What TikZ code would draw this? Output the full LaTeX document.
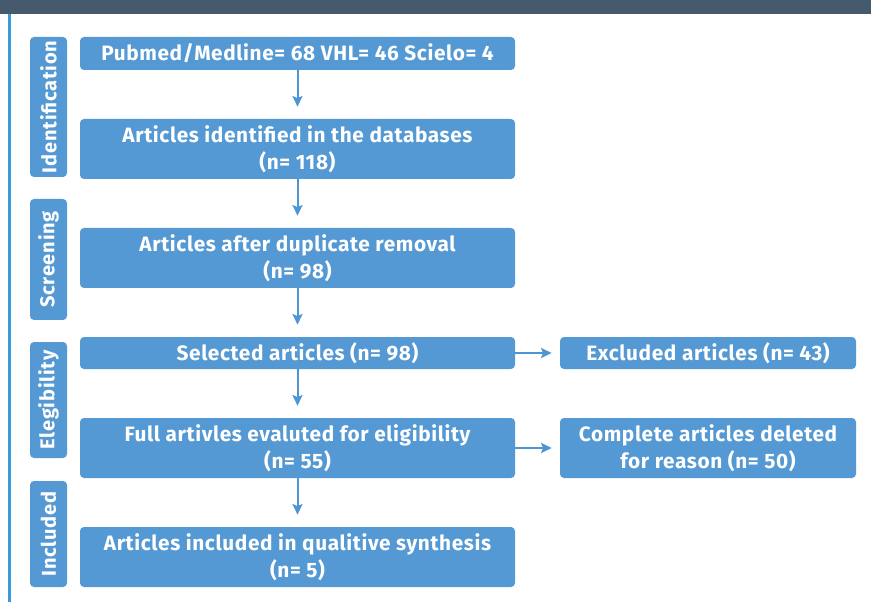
\documentclass[tikz,border=0pt]{standalone}
\usepackage{fontspec}
\setmainfont{Fira Sans}[BoldFont={Fira Sans Bold}]
\usetikzlibrary{arrows.meta}
\definecolor{boxblue}{HTML}{5499D3}
\definecolor{linkblue}{HTML}{4D95D3}
\definecolor{headbar}{HTML}{465A6E}
\definecolor{sideline}{HTML}{3A9BDC}
\begin{document}
\begin{tikzpicture}[x=0.75pt,y=-0.75pt,
  box/.style={fill=boxblue, rounded corners=3pt, text=white, align=center,
    font=\bfseries\fontsize{15.6}{20.25}\selectfont\addfontfeatures{LetterSpace=3}, inner sep=0pt, anchor=center},
  mainbox/.style={box, minimum width=326.25pt},
  sidebox/.style={box, minimum width=222pt},
  phase/.style={box, rotate=90, minimum height=27.75pt, font=\bfseries\fontsize{15}{18}\selectfont\addfontfeatures{LetterSpace=4}},
  link/.style={draw=linkblue, line width=1.5pt, -{Stealth[length=8pt,width=7.5pt,inset=1.5pt]}}]
\useasboundingbox (0,0) rectangle (871,602);
\fill[headbar] (0,0) rectangle (871,14);
\fill[sideline] (8,14) rectangle (10.5,602);

% phase labels
\node[phase, minimum width=105pt] (pid) at (48.5,107) {Identification};
\node[phase, minimum width=90.75pt] (psc) at (48.5,259.5) {Screening};
\node[phase, minimum width=87pt] (pel) at (48.5,400) {Elegibility};
\node[phase, minimum width=79.5pt] (pin) at (48.5,534) {Included};

% main boxes
\node[mainbox, minimum height=24.75pt] (b1) at (297.5,53.5) {Pubmed/Medline= 68 VHL= 46 Scielo= 4};
\node[mainbox, minimum height=45pt] (b2) at (297.5,149) {Articles identified in the databases\\(n= 118)};
\node[mainbox, minimum height=45pt] (b3) at (297.5,258) {Articles after duplicate removal\\(n= 98)};
\node[mainbox, minimum height=24pt] (b4) at (297.5,353) {Selected articles (n= 98)};
\node[mainbox, minimum height=45pt] (b5) at (297.5,448) {Full artivles evaluted for eligibility\\(n= 55)};
\node[mainbox, minimum height=45pt] (b6) at (297.5,557) {Articles included in qualitive synthesis\\(n= 5)};

% side boxes
\node[sidebox, minimum height=24pt] (s1) at (708,353) {Excluded articles (n= 43)};
\node[sidebox, minimum height=45pt] (s2) at (708,448) {Complete articles deleted\\for reason (n= 50)};

% connectors
\draw[link] (b1.south) -- ([yshift=9pt]b2.north);
\draw[link] (b2.south) -- ([yshift=9pt]b3.north);
\draw[link] (b3.south) -- ([yshift=9pt]b4.north);
\draw[link] (b4.south) -- ([yshift=9pt]b5.north);
\draw[link] (b5.south) -- ([yshift=9pt]b6.north);
\draw[link] (b4.east) -- ([xshift=-6pt]s1.west);
\draw[link] (b5.east) -- ([xshift=-6pt]s2.west);
\end{tikzpicture}
\end{document}
